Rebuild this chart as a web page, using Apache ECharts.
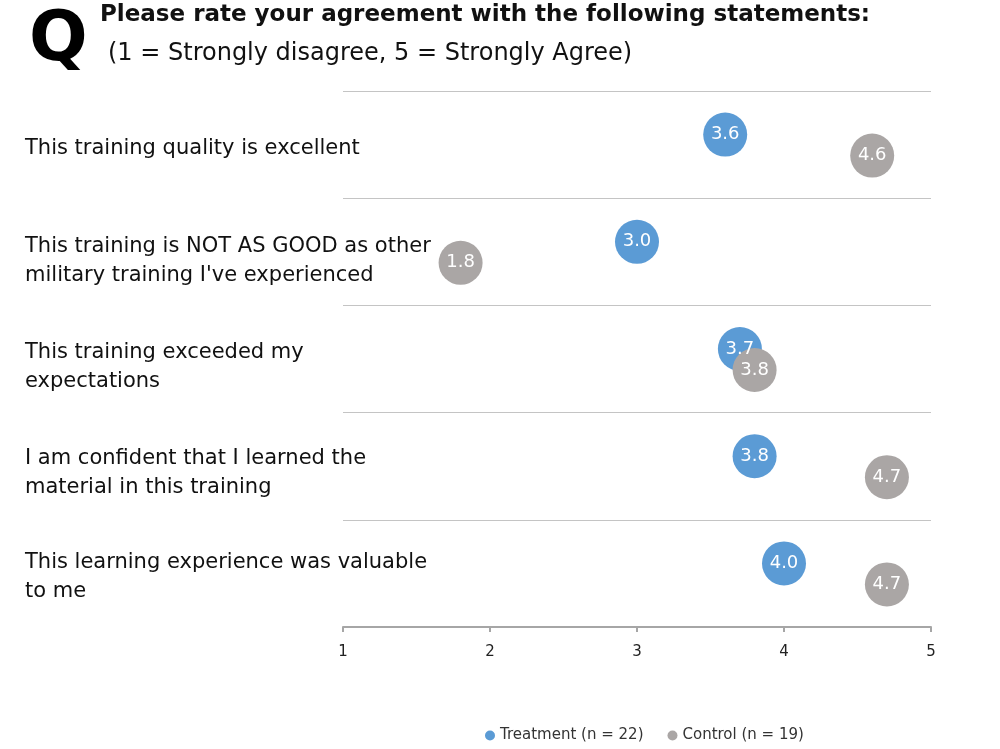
<!DOCTYPE html>
<html>
<head>
<meta charset="utf-8">
<script src="https://cdn.jsdelivr.net/npm/echarts@6/dist/echarts.min.js"></script>
<style>
  html, body { margin: 0; padding: 0; background: #fff; }
  #chart { width: 1000px; height: 749px; }
</style>
</head>
<body>
<div id="chart"></div>
<script>
const statements = [
  'This training quality is excellent',
  'This training is NOT AS GOOD as other\nmilitary training I\'ve experienced',
  'This training exceeded my\nexpectations',
  'I am confident that I learned the\nmaterial in this training',
  'This learning experience was valuable\nto me'
]
const treatment = [3.6, 3.0, 3.7, 3.8, 4.0]
const control = [4.6, 1.8, 3.8, 4.7, 4.7]
const seriesNames = ['Treatment (n = 22)', 'Control (n = 19)']
const xTicks = [1, 2, 3, 4, 5]

const FONT = '"DejaVu Sans", Verdana, sans-serif'
const chart = echarts.init(document.getElementById('chart'))

const dotLabel = {
  show: true,
  position: 'inside',
  color: '#fff',
  fontSize: 18,
  fontFamily: FONT,
  formatter: p => p.value[0].toFixed(1)
}

// 每行标签的下移量略有不同
const labelShift = [7, 19, 17, 13, 7]
const rich = {}
labelShift.forEach((p, i) => {
  rich['r' + i] = { fontSize: 21, lineHeight: 29, padding: [p, 0, 0, 0] }
})
const labelFormatter = (v, idx) =>
  v.split('\n').map(s => '{r' + idx + '|' + s + '}').join('\n')

chart.setOption({
  backgroundColor: '#fff',
  animation: false,
  textStyle: { fontFamily: FONT },
  graphic: [
    {
      type: 'text',
      left: 29,
      top: 8,
      style: { text: 'Q', font: '900 69px "DejaVu Sans", Arial, sans-serif', fill: '#000' }
    },
    {
      type: 'text',
      left: 100,
      top: 4,
      style: { text: 'Please rate your agreement with the following statements:', font: 'bold 23px ' + FONT, fill: '#111' }
    },
    {
      type: 'text',
      left: 108,
      top: 42,
      style: { text: '(1 = Strongly disagree, 5 = Strongly Agree)', font: '24px ' + FONT, fill: '#111' }
    }
  ],
  legend: {
    data: seriesNames,
    left: 480,
    bottom: 1,
    icon: 'circle',
    itemWidth: 10,
    itemHeight: 10,
    itemGap: 24,
    textStyle: { fontSize: 15, color: '#333', fontFamily: FONT }
  },
  grid: {
    left: 343,
    right: 69,
    top: 91,
    bottom: 122
  },
  xAxis: {
    type: 'value',
    min: 1,
    max: 5,
    interval: 1,
    axisLine: { show: true, lineStyle: { color: '#a6a6a6', width: 2 } },
    axisTick: { show: true, length: 5, lineStyle: { color: '#a6a6a6', width: 2 } },
    axisLabel: {
      color: '#222',
      fontSize: 15,
      margin: 18,
      formatter: v => (xTicks.includes(v) ? String(v) : '')
    },
    splitLine: { show: false }
  },
  yAxis: {
    type: 'category',
    inverse: true,
    data: statements,
    axisLine: { show: false },
    axisTick: { show: false },
    axisLabel: {
      align: 'left',
      margin: 318,
      color: '#111',
      fontSize: 21,
      lineHeight: 29,
      formatter: labelFormatter,
      rich
    },
    splitLine: { show: true, lineStyle: { color: '#c4c4c4', width: 1 } }
  },
  series: [
    {
      name: seriesNames[0],
      type: 'scatter',
      symbolSize: 44,
      symbolOffset: [0, -10],
      itemStyle: { color: '#5b9bd5', opacity: 1 },
      label: dotLabel,
      data: treatment.map((v, i) => [v, i])
    },
    {
      name: seriesNames[1],
      type: 'scatter',
      symbolSize: 44,
      symbolOffset: [0, 11],
      itemStyle: { color: '#aaa6a5', opacity: 1 },
      label: dotLabel,
      data: control.map((v, i) => [v, i])
    }
  ]
})
</script>
</body>
</html>
